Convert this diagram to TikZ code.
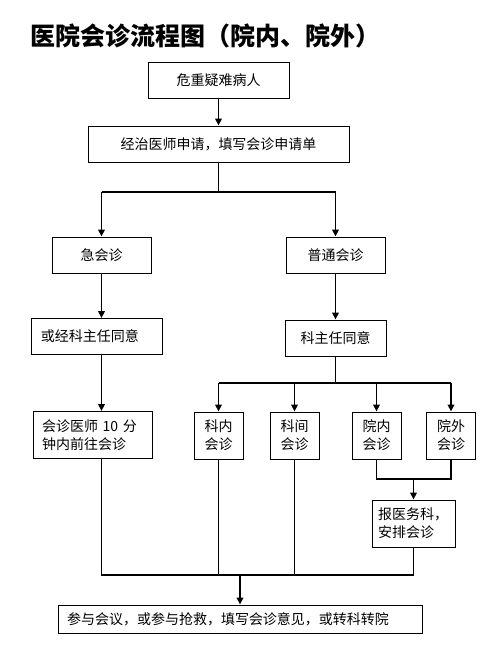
\documentclass[tikz,border=0pt]{standalone}
\usepackage{fontspec}
\setmainfont{Noto Sans CJK SC}
\usetikzlibrary{arrows.meta, positioning}

\begin{document}
\begin{tikzpicture}[
  x=1pt, y=-1pt,
  flowbox/.style={draw, line width=0.9pt, inner sep=2pt, minimum height=36pt,
                  font=\fontsize{14}{18}\selectfont},
  tallbox/.style={flowbox, minimum height=47pt, align=left},
  link/.style={line width=1.9pt},
  arr/.style={link, -{Triangle[length=7pt,width=6.5pt]}}
]
\useasboundingbox (0,0) rectangle (486,646);
\node[anchor=base west, font=\fontsize{25}{30}\selectfont\bfseries] (title) at (27,45) {医院会诊流程图（院内、院外）};

% top part
\node[flowbox, minimum width=141pt] (patient) at (218.5,80) {危重疑难病人};
\node[flowbox, minimum width=261pt] (apply) at (218.5,144) {经治医师申请，填写会诊申请单};
\node[flowbox, minimum width=99pt] (urgent) at (101.5,255) {急会诊};
\node[flowbox, minimum width=99pt] (normal) at (335.5,255) {普通会诊};
\node[flowbox, text width=111pt, inner xsep=10pt, align=left] (agreeA) at (96.5,336.5) {或经科主任同意};
\node[flowbox, minimum width=101pt] (agreeB) at (335.5,338) {科主任同意};

% consultation kinds
\node[tallbox, text width=101pt, inner xsep=9pt] (rush) at (92.5,435) {会诊医师 10 分\\钟内前往会诊};
\node[tallbox, align=center, minimum width=49pt] (innerdept) at (218.5,435.5) {科内\\会诊};
\node[tallbox, align=center, minimum width=49pt] (crossdept) at (294.5,435.5) {科间\\会诊};
\node[tallbox, align=center, minimum width=49pt] (inhosp) at (376.5,435.5) {院内\\会诊};
\node[tallbox, align=center, minimum width=49pt] (outhosp) at (451,435.5) {院外\\会诊};
\node[tallbox, text width=71pt, inner xsep=6pt] (office) at (413.5,523.5) {报医务科，\\安排会诊};
\node[flowbox, minimum height=28pt, text width=346pt, inner xsep=9pt, align=left] (result) at (240,619)
  {参与会议，或参与抢救，填写会诊意见，或转科转院};

% connectors
\coordinate (fork) at (218.5,192);
\coordinate (fork2) at (335.5,383);
\coordinate (merge) at (413.5,479);
\coordinate (join) at (240,575);

\draw[arr] (patient) -- (apply);
\draw[link] (apply) -- (fork);
\draw[link] (urgent.north |- fork) -- (normal.north |- fork);
\draw[arr] (urgent.north |- fork) -- (urgent);
\draw[arr] (normal.north |- fork) -- (normal);
\draw[arr] (urgent) -- (urgent |- agreeA.north);
\draw[arr] (urgent |- agreeA.south) -- (urgent |- rush.north);
\draw[arr] (normal) -- (agreeB);
\draw[link] (agreeB) -- (fork2);
\draw[link] (innerdept.north |- fork2) -- (outhosp.north |- fork2);
\foreach \n in {innerdept,crossdept,inhosp,outhosp}
  \draw[arr] (\n.north |- fork2) -- (\n);
\draw[link] (inhosp.south) |- (outhosp.south |- merge) -- (outhosp.south);
\draw[arr] (merge) -- (office);
\draw[link] (urgent |- rush.south) |- (office.south |- join) -- (office.south);
\draw[link] (innerdept) -- (innerdept |- join);
\draw[link] (crossdept) -- (crossdept |- join);
\draw[arr] (join) -- (result);
\end{tikzpicture}
\end{document}
